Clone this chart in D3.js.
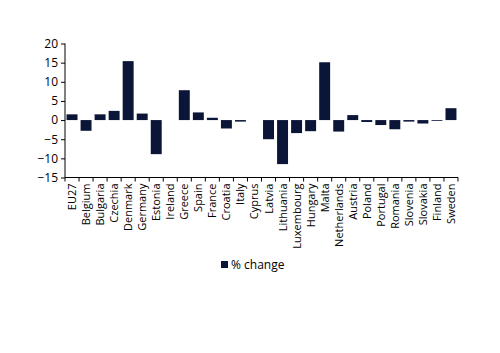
<!DOCTYPE html>
<html>
<head>
<meta charset="utf-8">
<script src="https://cdn.jsdelivr.net/npm/d3@7"></script>
<style>
body { margin: 0; background: #fff; }
text { font-family: "Open Sans", sans-serif; fill: #000; }
</style>
</head>
<body>
<svg id="chart" width="500" height="353"></svg>
<script>
// countries and the % change
const countries = ["EU27", "Belgium", "Bulgaria", "Czechia", "Denmark", "Germany", "Estonia", "Ireland",
  "Greece", "Spain", "France", "Croatia", "Italy", "Cyprus", "Latvia", "Lithuania", "Luxembourg",
  "Hungary", "Malta", "Netherlands", "Austria", "Poland", "Portugal", "Romania", "Slovenia",
  "Slovakia", "Finland", "Sweden"];
const change = [1.5, -2.8, 1.5, 2.4, 15.4, 1.7, -8.9, 0, 7.8, 2.0, 0.6, -2.2, -0.4, 0, -5.0, -11.5, -3.4,
  -2.9, 15.1, -3.0, 1.3, -0.5, -1.3, -2.4, -0.4, -0.9, -0.1, 3.1];
const yTicks = [20, 15, 10, 5, 0, -5, -10, -15];
const seriesName = "% change";

const svg = d3.select("#chart");
const mLeft = 65, mRight = 458, mTop = 43.5, mBottom = 177.5;
const barColor = "#0b1538";

const x = d3.scaleBand().domain(countries).range([mLeft, mRight]).paddingInner(0.22).paddingOuter(0.11);
const y = d3.scaleLinear().domain([-15, 20]).range([mBottom, mTop]);

let data = countries.map((c, i) => ({country: c, value: change[i]}));

svg.append("g").selectAll("rect")
  .data(data)
  .enter().append("rect")
  .attr("x", d => x(d.country))
  .attr("width", x.bandwidth())
  .attr("y", d => y(Math.max(0, d.value)))
  .attr("height", d => Math.max(Math.abs(y(d.value) - y(0)), d.value === 0 ? 0 : 0.8))
  .attr("fill", barColor);

// y axis
const yAxis = svg.append("g").attr("transform", "translate(" + mLeft + ",0)")
  .call(d3.axisLeft(y).tickValues(yTicks).tickSize(4).tickPadding(3));
yAxis.selectAll("text").style("font-size", "12px");
yAxis.select(".domain").attr("d", "M0," + mTop + "V" + mBottom);

// x axis along the bottom, ticks at category boundaries
const xg = svg.append("g").attr("transform", "translate(0," + mBottom + ")");
xg.append("line").attr("x1", mLeft).attr("x2", mRight).attr("stroke", "#000");
const bounds = d3.range(countries.length + 1).map(i => mLeft + i * (mRight - mLeft) / countries.length);
xg.selectAll(".tk").data(bounds).enter().append("line")
  .attr("x1", d => d).attr("x2", d => d).attr("y1", 0).attr("y2", 4).attr("stroke", "#000");
xg.selectAll(".lbl").data(countries).enter().append("text")
  .attr("transform", d => "translate(" + (x(d) + x.bandwidth() / 2 + 4) + ",6) rotate(-90)")
  .attr("text-anchor", "end")
  .style("font-size", "11px")
  .text(d => d);

// legend
const lg = svg.append("g").attr("transform", "translate(221,261)");
lg.append("rect").attr("width", 7).attr("height", 7).attr("fill", barColor);
lg.append("text").attr("x", 10).attr("y", 8).style("font-size", "12px").text(seriesName);
</script>
</body>
</html>
